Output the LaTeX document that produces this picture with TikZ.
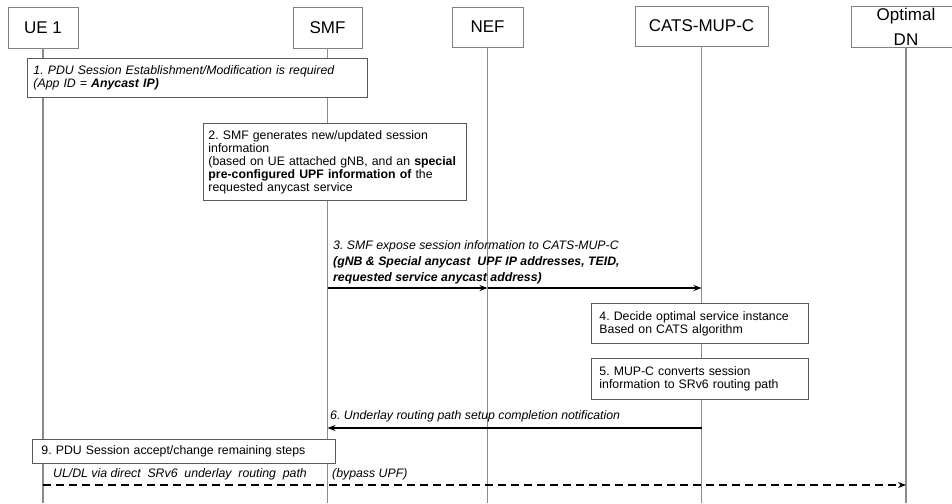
\documentclass[tikz,border=0pt]{standalone}
\usepackage{fontspec}
\setmainfont{Liberation Sans}
\usetikzlibrary{arrows.meta, positioning}

\begin{document}
\frenchspacing
\begin{tikzpicture} [x=1pt, y=-1pt,
  actor/.style = {draw=gray, fill=white, line width=0.9pt, inner sep=0pt,
    minimum height=41pt, font=\fontsize{17}{19}\selectfont},
  stepbox/.style = {draw=black!65, fill=white, line width=0.9pt, anchor=north west,
    align=left, inner xsep=6pt, inner ysep=0pt, font=\fontsize{12.3}{13}\selectfont},
  lifeline/.style = {draw=black!45, line width=1.6pt},
  msg/.style = {-{Stealth[length=8pt, width=6pt]}, line width=1.6pt},
  msgtext/.style = {anchor=south west, inner sep=0pt, align=left,
    font=\fontsize{12.3}{16}\selectfont\itshape}]

\useasboundingbox (0,0) rectangle (952,503);

\coordinate (bottom) at (0,503);

% participants
\node (ue) [actor, minimum width=70pt] at (43,27.5) {UE 1};
\node (smf) [actor, minimum width=69pt] at (327.5,27.5) {SMF};
\node (nef) [actor, minimum width=71pt, minimum height=40pt] at (487.5,27) {NEF};
\node (cats) [actor, minimum width=133pt, minimum height=40pt] at (701.5,26) {CATS-MUP-C};
\node (dn) [actor, minimum width=110pt, align=center, font=\fontsize{17}{25}\selectfont]
  at (906,26.5) {Optimal\\DN};

\foreach \p in {ue, smf, nef, cats, dn}
  \draw [lifeline] (\p.south) -- (\p.south |- bottom);

% steps in boxes
\node (s1) [stepbox, text width=328pt, minimum height=39pt] at (27,58)
  {\itshape 1. PDU Session Establishment/Modification is required\\
   \itshape (App ID = \textbf{Anycast IP)}};

\node (s2) [stepbox, text width=253pt, minimum height=77pt, inner xsep=5pt] at (203,123)
  {2. SMF generates new/updated session\\
   information\\
   (based on UE attached gNB, and an \textbf{special}\\
   \textbf{pre-configured UPF information of} the\\
   requested anycast service};

\node (s4) [stepbox, text width=201pt, minimum height=40pt, inner xsep=8pt] at (591,303)
  {4. Decide optimal service instance\\
   Based on CATS algorithm};

\node (s5) [stepbox, text width=201pt, minimum height=41pt, inner xsep=8pt] at (591,358)
  {5. MUP-C converts session\\
   information to SRv6 routing path};

\node (s9) [stepbox, text width=285pt, minimum height=24pt, inner xsep=9pt] at (32,439)
  {9. PDU Session accept/change remaining steps};

% messages
\coordinate (y3) at (0,288);
\coordinate (y6) at (0,428);
\coordinate (y7) at (0,485);

\node (t3) [msgtext] at (333,284)
  {3. SMF expose session information to CATS-MUP-C\\
   \textbf{(gNB \& Special anycast\ \ UPF IP addresses, TEID,}\\
   \textbf{requested service anycast address)}};
\path [msg]
  (smf |- y3) edge (nef |- y3)
  (nef |- y3) edge (cats |- y3);

\node (t6) [msgtext] at (330,422)
  {6. Underlay routing path setup completion notification};
\path [msg]
  (cats |- y6) edge (smf |- y6);

\node (t7a) [msgtext] at (53,480)
  {UL/DL via direct\ \ SRv6\ \ underlay\ \ routing\ \ path};
\node (t7b) [msgtext] at (332,480) {(bypass UPF)};
\path [msg, dash pattern=on 8pt off 5pt]
  (ue |- y7) edge (dn |- y7);

\end{tikzpicture}
\end{document}
